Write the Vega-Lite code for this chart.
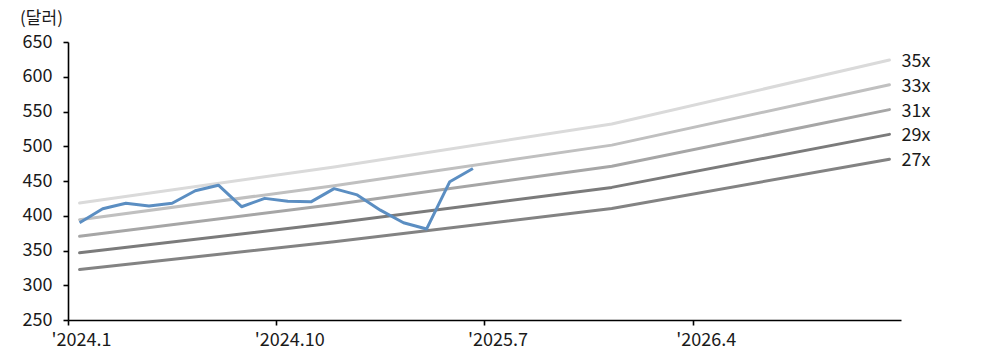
{
  "$schema": "https://vega.github.io/schema/vega-lite/v6.json",
  "width": 833,
  "height": 278,
  "autosize": {"type": "none"},
  "padding": {"left": 68, "top": 42, "right": 85, "bottom": 36},
  "background": "white",
  "config": {
    "view": {"stroke": null},
    "font": "Noto Sans CJK KR",
    "axis": {
      "labelFont": "Noto Sans CJK KR",
      "titleFont": "Noto Sans CJK KR",
      "labelColor": "#1a1a1a",
      "titleColor": "#1a1a1a",
      "domainColor": "#000000",
      "tickColor": "#000000",
      "domainWidth": 1.6,
      "tickWidth": 1.6,
      "grid": false
    }
  },
  "datasets": {
    "band": [
      {"month": "2024.1", "series": "27x", "value": 322.7},
      {"month": "2024.12", "series": "27x", "value": 362.6},
      {"month": "2025.12", "series": "27x", "value": 410.4},
      {"month": "2026.12", "series": "27x", "value": 481.4},
      {"month": "2024.1", "series": "29x", "value": 346.6},
      {"month": "2024.12", "series": "29x", "value": 389.5},
      {"month": "2025.12", "series": "29x", "value": 440.8},
      {"month": "2026.12", "series": "29x", "value": 517.1},
      {"month": "2024.1", "series": "31x", "value": 370.5},
      {"month": "2024.12", "series": "31x", "value": 416.3},
      {"month": "2025.12", "series": "31x", "value": 471.2},
      {"month": "2026.12", "series": "31x", "value": 552.7},
      {"month": "2024.1", "series": "33x", "value": 394.4},
      {"month": "2024.12", "series": "33x", "value": 443.2},
      {"month": "2025.12", "series": "33x", "value": 501.6},
      {"month": "2026.12", "series": "33x", "value": 588.4},
      {"month": "2024.1", "series": "35x", "value": 418.3},
      {"month": "2024.12", "series": "35x", "value": 470.1},
      {"month": "2025.12", "series": "35x", "value": 532.0},
      {"month": "2026.12", "series": "35x", "value": 624.1}
    ],
    "price": [
      {"month": "2024.1", "value": 390},
      {"month": "2024.2", "value": 410},
      {"month": "2024.3", "value": 418},
      {"month": "2024.4", "value": 414},
      {"month": "2024.5", "value": 418},
      {"month": "2024.6", "value": 436},
      {"month": "2024.7", "value": 444},
      {"month": "2024.8", "value": 413},
      {"month": "2024.9", "value": 425},
      {"month": "2024.10", "value": 421},
      {"month": "2024.11", "value": 420},
      {"month": "2024.12", "value": 439},
      {"month": "2025.1", "value": 430},
      {"month": "2025.2", "value": 408},
      {"month": "2025.3", "value": 390},
      {"month": "2025.4", "value": 381},
      {"month": "2025.5", "value": 449},
      {"month": "2025.6", "value": 468}
    ]
  },
  "encoding": {
    "x": {
      "field": "month",
      "type": "ordinal",
      "sort": null,
      "scale": {
        "type": "point",
        "padding": 0.5,
        "domain": [
          "2024.1", "2024.2", "2024.3", "2024.4", "2024.5", "2024.6", "2024.7", "2024.8", "2024.9", "2024.10", "2024.11", "2024.12",
          "2025.1", "2025.2", "2025.3", "2025.4", "2025.5", "2025.6", "2025.7", "2025.8", "2025.9", "2025.10", "2025.11", "2025.12",
          "2026.1", "2026.2", "2026.3", "2026.4", "2026.5", "2026.6", "2026.7", "2026.8", "2026.9", "2026.10", "2026.11", "2026.12"
        ]
      },
      "axis": {
        "title": null,
        "values": ["2024.1", "2024.10", "2025.7", "2026.4"],
        "labelExpr": "'\\'' + datum.label",
        "labelAngle": 0,
        "labelFontSize": 18,
        "tickSize": 5,
        "tickOffset": -11.57,
        "labelOffset": 13,
        "labelPadding": 6
      }
    },
    "y": {
      "field": "value",
      "type": "quantitative",
      "scale": {"domain": [250, 650], "nice": false, "zero": false},
      "axis": {
        "values": [250, 300, 350, 400, 450, 500, 550, 600, 650],
        "title": "(달러)",
        "titleAngle": 0,
        "titleAlign": "center",
        "titleBaseline": "middle",
        "titleX": -27,
        "titleY": -24,
        "titleFontSize": 17,
        "titleFontWeight": "normal",
        "labelFontSize": 18,
        "tickSize": 5,
        "labelPadding": 11
      }
    }
  },
  "layer": [
    {
      "data": {"name": "band"},
      "mark": {"type": "line", "strokeWidth": 3, "strokeCap": "round", "strokeJoin": "round"},
      "encoding": {
        "color": {
          "field": "series",
          "type": "nominal",
          "scale": {
            "domain": ["27x", "29x", "31x", "33x", "35x"],
            "range": ["#838383", "#7b7b7b", "#a6a6a6", "#c0c0c0", "#dadada"]
          },
          "legend": null
        }
      }
    },
    {
      "data": {"name": "band"},
      "transform": [{"filter": "datum.month == '2026.12'"}],
      "mark": {"type": "text", "align": "left", "baseline": "middle", "dx": 12, "dy": 2, "fontSize": 18, "color": "#1a1a1a"},
      "encoding": {
        "text": {"field": "series", "type": "nominal"}
      }
    },
    {
      "data": {"name": "price"},
      "mark": {"type": "line", "strokeWidth": 3, "color": "#5b8ec2", "strokeJoin": "round"},
      "encoding": {}
    },
    {
      "data": {"values": [{"month": "2026.12"}]},
      "mark": {"type": "rule", "color": "#000000", "strokeWidth": 1.6, "xOffset": 11.57, "y2Offset": 5},
      "encoding": {
        "y": {"datum": 250},
        "y2": {"datum": 250}
      }
    }
  ]
}
